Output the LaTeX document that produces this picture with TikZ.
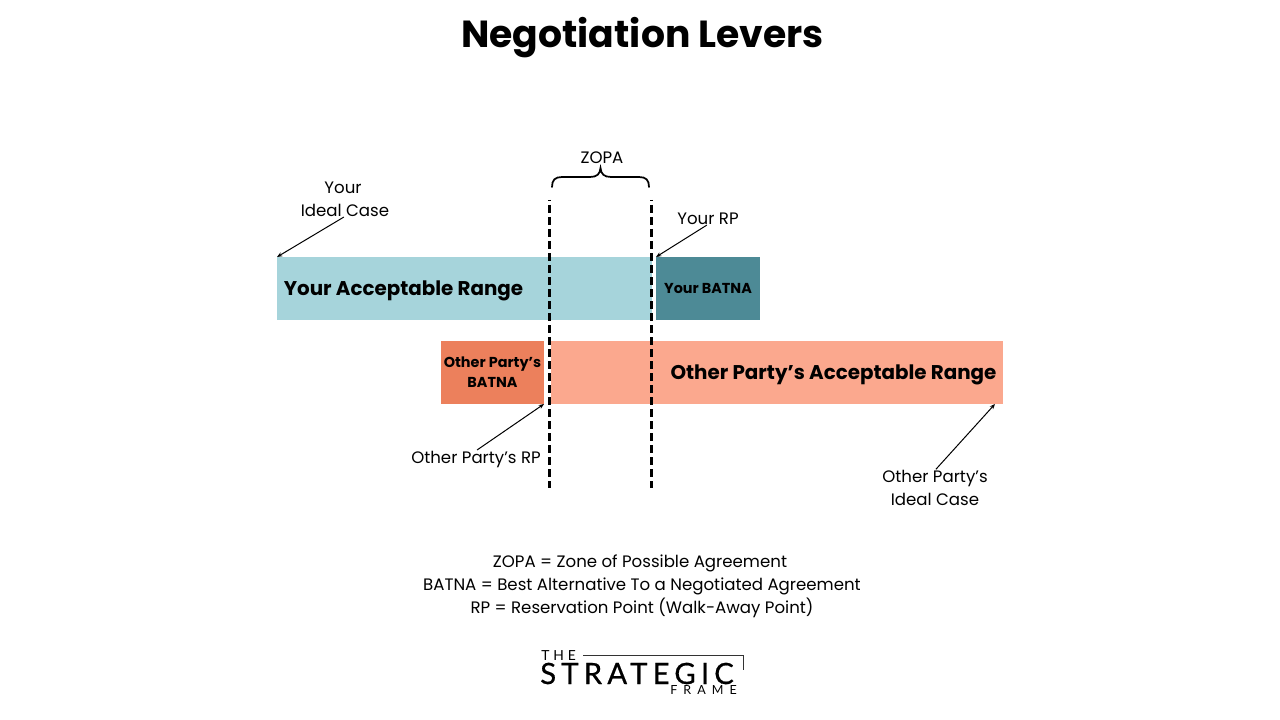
\documentclass[tikz,border=0pt]{standalone}
\usepackage{fontspec}
\setmainfont{Poppins}
\newfontfamily\logoS[LetterSpace=17.5,FakeBold=0.6]{Lato}
\newfontfamily\logoT[LetterSpace=28]{Lato}
\newfontfamily\logoF[LetterSpace=48]{Lato}
\usetikzlibrary{arrows.meta}
\definecolor{lteal}{HTML}{A6D4DB}
\definecolor{dteal}{HTML}{4D8A96}
\definecolor{dorange}{HTML}{EC805C}
\definecolor{lorange}{HTML}{FBA88E}
\tikzset{
 px/.style={x=0.75pt,y=-0.75pt},
 bar/.style={draw=none,inner sep=0pt,outer sep=0pt,minimum height=47.25pt,anchor=north west},
 body/.style={inner sep=0pt,outer sep=0pt,align=center,font=\fontsize{12.45}{17.25}\selectfont},
 bigb/.style={inner sep=0pt,outer sep=0pt,font=\fontsize{14.9}{18}\selectfont\bfseries},
 smallb/.style={inner sep=0pt,outer sep=0pt,align=center,font=\fontsize{10.8}{15}\selectfont\bfseries},
 pointer/.style={line width=0.75pt,-{Stealth[length=4pt,width=3.2pt]},shorten <=1pt},
 zone/.style={line width=2.25pt,dash pattern=on 6pt off 3pt,dash phase=5.25pt},
 bracket/.style={line width=1.3pt,line cap=round},
}
\begin{document}
\begin{tikzpicture}[px]
\useasboundingbox (0,0) rectangle (1280,720);
\fill[white] (0,0) rectangle (1280,720);
\node[inner sep=0pt,font=\fontsize{28.3}{34}\selectfont\bfseries] (title) at (642.5,38) {Negotiation Levers};
% bars
\node[bar,fill=lteal,minimum width=281.25pt] (yourrange) at (277,257) {};
\node[bar,fill=dteal,minimum width=78pt] (yourbatna) at (656,257) {};
\node[bar,fill=dorange,minimum width=77.25pt] (otherbatna) at (441,341) {};
\node[bar,fill=lorange,minimum width=339pt] (otherrange) at (551,341) {};
% bar labels
\node[bigb] (t1) at (403.5,290.5) {Your Acceptable Range};
\node[smallb] (t2) at (708,289) {Your BATNA};
\node[smallb] (t3) at (492.5,372) {Other Party’s\\BATNA};
\node[bigb] (t4) at (833.5,374.5) {Other Party’s Acceptable Range};
% zopa lines
\coordinate (za) at (549.5,200);
\coordinate (zb) at (549.5,488);
\coordinate (zc) at (651.5,200);
\coordinate (zd) at (651.5,488);
\draw[zone] (za) -- (zb);
\draw[zone] (zc) -- (zd);
% brace
\coordinate (bl) at (552,187);
\coordinate (br) at (649,187);
\coordinate (bt) at (600.5,168);
\draw[bracket] (bl) .. controls (552,180) and (555,177) .. (562,177) -- (590,177)
  .. controls (597,177) and (600,174) .. (bt)
  .. controls (601,174) and (604,177) .. (611,177) -- (639,177)
  .. controls (646,177) and (649,180) .. (br);
\node[body] (zopa) at (602,157.5) {ZOPA};
% pointer labels
\node[body] (lideal) at (345,199) {Your\hspace*{3pt}\\Ideal Case};
\node[body] (lrp) at (708,218.5) {Your RP};
\node[body] (orp) at (476,459) {Other Party’s RP};
\node[body] (oideal) at (935,488) {Other Party’s\\Ideal Case};
\draw[pointer] (lideal.south) -- (yourrange.north west);
\draw[pointer] (lrp.south) -- (yourbatna.north west);
\draw[pointer] (orp.north) -- (otherbatna.south east);
\coordinate (oidealtip) at (995,404);
\draw[pointer] (oideal.north) -- (oidealtip);
% legend
\node[body] (legend) at (642,586) {ZOPA = Zone of Possible Agreement\hspace*{3pt}\\BATNA = Best Alternative To a Negotiated Agreement\\RP = Reservation Point (Walk-Away Point)};
% logo
\node[inner sep=0pt,anchor=west,font=\fontsize{10.4}{10}\logoT] (lthe) at (541,656) {THE};
\node[inner sep=0pt,anchor=west,font=\fontsize{22}{22}\logoS] (lstr) at (540,673.5) {STRATEGIC};
\node[inner sep=0pt,anchor=east,font=\fontsize{9.4}{10}\logoF] (lfrm) at (737,690.5) {FRAME};
\coordinate (lga) at (583,655);
\coordinate (lgb) at (743,655);
\coordinate (lgc) at (743,670);
\draw[line width=0.7pt,black!80] (lga) -- (lgb) -- (lgc);
\end{tikzpicture}
\end{document}
